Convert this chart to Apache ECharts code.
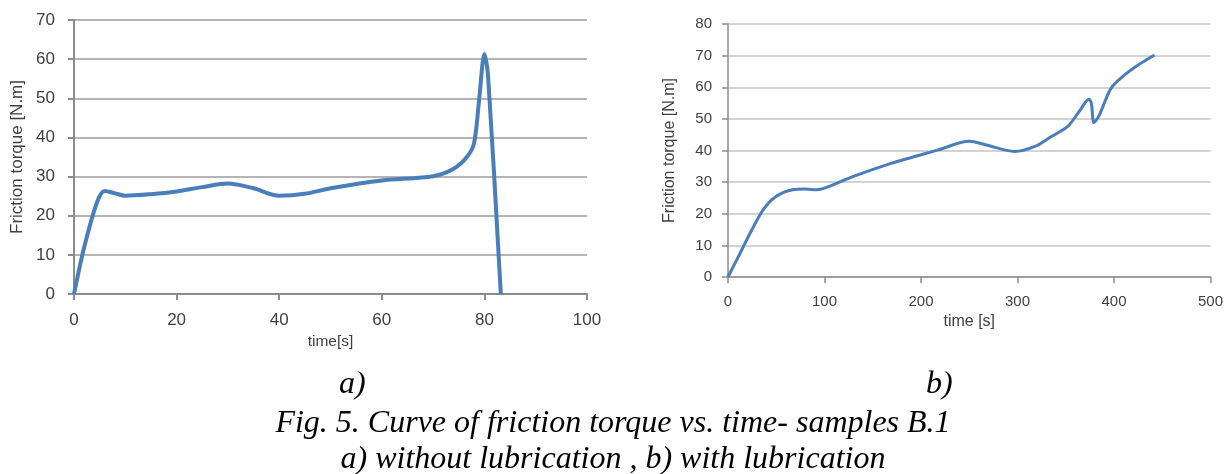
<!DOCTYPE html>
<html>
<head>
<meta charset="utf-8">
<script src="https://cdn.jsdelivr.net/npm/echarts@6/dist/echarts.min.js"></script>
<style>
html,body{margin:0;padding:0;background:#fff;}
#c{width:1226px;height:474px;}
</style>
</head>
<body>
<div id="c"></div>
<script>
// a) without lubrication: [time s, torque N.m]
const timeA   = [0, 2, 4.5, 6, 8, 10, 15, 20, 25, 30, 35, 40, 45, 50, 60, 70, 74, 76.7, 78, 79, 80, 80.7, 83.2];
const torqueA = [0, 12, 23.5, 26.3, 25.7, 25.1, 25.5, 26.2, 27.3, 28.2, 27, 25.1, 25.6, 27, 29, 30.1, 32, 35.2, 38.6, 50, 61.3, 56, 0];
// b) with lubrication
const timeB   = [0, 12.7, 23, 36.6, 50, 67, 80, 92, 100, 130, 170, 218, 250, 267, 297, 318, 335, 352, 365, 374, 376.5, 379.2, 384, 396, 403, 420, 442];
const torqueB = [0, 7.6, 13.9, 21.3, 25.5, 27.6, 27.8, 27.6, 28.1, 31.8, 36, 40.2, 42.9, 41.8, 39.7, 41.3, 44.4, 47.6, 52.8, 56.2, 55, 48.8, 50.7, 59.2, 61.8, 66, 70.2];
const yTicksA = [0, 70, 10];
const xTicksA = [0, 100, 20];
const yTicksB = [0, 80, 10];
const xTicksB = [0, 500, 100];
const yName = 'Friction torque [N.m]';
const xNameA = 'time[s]';
const xNameB = 'time [s]';
const captions = ['a)', 'b)', 'Fig. 5. Curve of friction torque vs. time- samples B.1', 'a) without lubrication , b) with lubrication'];

const txt = '#404040';
function axisX(idx, t, fs, name, nfs, gap, lw, margin) {
  return {
    type: 'value', gridIndex: idx, min: t[0], max: t[1], interval: t[2],
    name: name, nameLocation: 'middle', nameGap: gap,
    nameTextStyle: {color: txt, fontSize: nfs, fontFamily: 'Liberation Sans'},
    axisLine: {show: true, lineStyle: {color: '#8c8c8c', width: lw}},
    axisTick: {show: true, length: 6, lineStyle: {color: '#8c8c8c', width: lw}},
    axisLabel: {color: txt, fontSize: fs, fontFamily: 'Liberation Sans', margin: margin},
    splitLine: {show: false}
  };
}
function axisY(idx, t, fs, nfs, gap, lw, glw, gc, margin) {
  return {
    type: 'value', gridIndex: idx, min: t[0], max: t[1], interval: t[2],
    name: yName, nameLocation: 'middle', nameGap: gap, nameRotate: 90,
    nameTextStyle: {color: txt, fontSize: nfs, fontFamily: 'Liberation Sans'},
    axisLine: {show: true, lineStyle: {color: '#8c8c8c', width: lw}},
    axisTick: {show: true, length: 6, lineStyle: {color: '#8c8c8c', width: lw}},
    axisLabel: {color: txt, fontSize: fs, fontFamily: 'Liberation Sans', margin: margin},
    splitLine: {show: true, lineStyle: {color: gc, width: glw}}
  };
}
const chart = echarts.init(document.getElementById('c'));
const capFont = 'italic 32px "Liberation Serif"';
chart.setOption({
  animation: false,
  grid: [
    {left: 74, top: 20, width: 513, height: 274},
    {left: 728, top: 24, width: 486, height: 253}
  ],
  xAxis: [axisX(0, xTicksA, 17, xNameA, 15.5, 35, 2, 18), axisX(1, xTicksB, 15, xNameB, 16, 33, 1.5, 17)],
  yAxis: [axisY(0, yTicksA, 17, 17, 48, 2, 2, '#b4b4b4', 19), axisY(1, yTicksB, 15, 16, 50, 1.5, 1.5, '#c4c4c4', 16)],
  series: [
    {type: 'line', xAxisIndex: 0, yAxisIndex: 0, showSymbol: false, smooth: 0.3,
     data: timeA.map((t, i) => [t, torqueA[i]]),
     lineStyle: {color: '#4a7ebb', width: 4}},
    {type: 'line', xAxisIndex: 1, yAxisIndex: 1, showSymbol: false, smooth: 0.3,
     data: timeB.map((t, i) => [t, torqueB[i]]),
     lineStyle: {color: '#4a7ebb', width: 3}}
  ],
  graphic: [
    {type: 'text', left: 339, top: 369, style: {text: captions[0], font: capFont, fill: '#000'}},
    {type: 'text', left: 926, top: 369, style: {text: captions[1], font: capFont, fill: '#000'}},
    {type: 'text', left: 'center', top: 408, style: {text: captions[2], font: capFont, fill: '#000'}},
    {type: 'text', left: 'center', top: 444, style: {text: captions[3], font: capFont, fill: '#000'}}
  ]
});
</script>
</body>
</html>
